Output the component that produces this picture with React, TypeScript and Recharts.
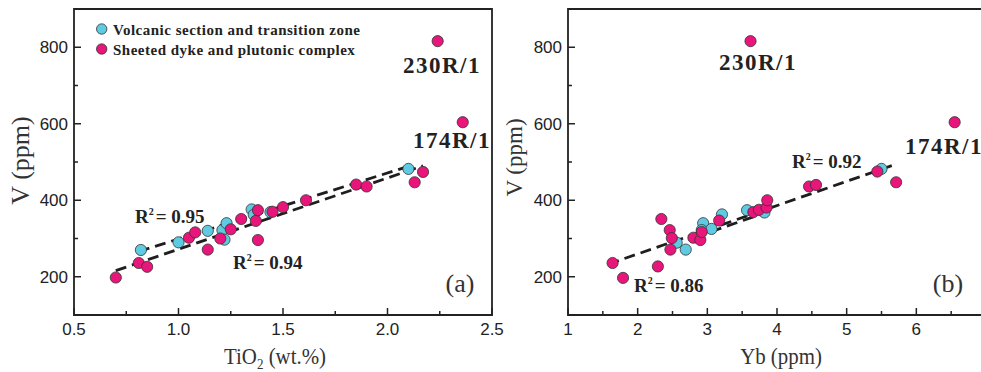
import React from "react";
import { ScatterChart, Scatter, XAxis, YAxis, ReferenceArea, ReferenceLine } from "recharts";

// panel (a): TiO2 (wt.%) vs V (ppm)
const tio2Volcanic = [
  { x: 0.82, y: 270 }, { x: 1.0, y: 290 }, { x: 1.14, y: 320 }, { x: 1.21, y: 322 },
  { x: 1.22, y: 297 }, { x: 1.23, y: 340 }, { x: 1.35, y: 376 }, { x: 1.36, y: 362 },
  { x: 1.44, y: 369 }, { x: 2.1, y: 482 },
];
const tio2Sheeted = [
  { x: 0.7, y: 198 }, { x: 0.81, y: 236 }, { x: 0.85, y: 226 }, { x: 1.05, y: 302 },
  { x: 1.08, y: 316 }, { x: 1.14, y: 271 }, { x: 1.2, y: 300 }, { x: 1.25, y: 324 },
  { x: 1.3, y: 351 }, { x: 1.37, y: 346 }, { x: 1.38, y: 374 }, { x: 1.38, y: 296 },
  { x: 1.45, y: 370 }, { x: 1.5, y: 382 }, { x: 1.61, y: 400 }, { x: 1.85, y: 441 },
  { x: 1.9, y: 436 }, { x: 2.13, y: 447 }, { x: 2.17, y: 474 }, { x: 2.24, y: 816 },
  { x: 2.36, y: 604 },
];
const tio2FitVolcanic = [{ x: 0.81, y: 266 }, { x: 2.12, y: 492 }];
const tio2FitSheeted = [{ x: 0.7, y: 216 }, { x: 2.17, y: 490 }];

// panel (b): Yb (ppm) vs V (ppm)
const ybVolcanic = [
  { x: 2.56, y: 289 }, { x: 2.69, y: 271 }, { x: 2.94, y: 340 }, { x: 2.92, y: 322 },
  { x: 3.06, y: 325 }, { x: 3.21, y: 363 }, { x: 3.57, y: 374 }, { x: 3.82, y: 368 },
  { x: 5.5, y: 482 },
];
const ybSheeted = [
  { x: 1.64, y: 236 }, { x: 1.79, y: 197 }, { x: 2.29, y: 227 }, { x: 2.34, y: 351 },
  { x: 2.46, y: 322 }, { x: 2.49, y: 301 }, { x: 2.47, y: 271 }, { x: 2.8, y: 302 },
  { x: 2.9, y: 296 }, { x: 2.92, y: 317 }, { x: 3.17, y: 347 }, { x: 3.66, y: 369 },
  { x: 3.74, y: 375 }, { x: 3.85, y: 381 }, { x: 3.86, y: 400 }, { x: 4.46, y: 436 },
  { x: 4.56, y: 440 }, { x: 5.44, y: 475 }, { x: 5.71, y: 447 }, { x: 3.62, y: 816 },
  { x: 6.55, y: 604 },
];
const ybFitSheeted = [{ x: 1.58, y: 233 }, { x: 5.72, y: 495 }];
const ybFitVolcanic = [{ x: 2.82, y: 303 }, { x: 3.95, y: 375 }];

const tio2Ticks = [0.5, 0.75, 1, 1.25, 1.5, 1.75, 2, 2.25, 2.5];
// the 7 tick falls just past the picture's right edge
const ybTicks = [1, 1.5, 2, 2.5, 3, 3.5, 4, 4.5, 5, 5.5, 6, 6.5];
const vTicks = [200, 300, 400, 500, 600, 700, 800];

const seriesNames = ["Volcanic section and transition zone", "Sheeted dyke and plutonic complex"];

const CYAN = "#5ecbe2";
const PINK = "#e8157b";
const INK = "#222";
const SANS = "'Liberation Sans', Arial, sans-serif";
const SERIF = "'Liberation Serif', 'Times New Roman', serif";

const dot = (fill: string) => (p: any) => (
  <circle cx={p.cx} cy={p.cy} r={5.6} fill={fill} stroke="#333" strokeWidth={0.8} />
);

const xTick = (isMajor: (v: number) => boolean, fmt: (v: number) => string) => (p: any) => {
  const v = p.payload.value;
  const major = isMajor(v);
  return (
    <g>
      <line x1={p.x} x2={p.x} y1={p.y} y2={p.y - (major ? 7 : 4)} stroke={INK} strokeWidth={1.5} />
      {major && (
        <text x={p.x} y={p.y + 20} textAnchor="middle" fontSize={17} fontFamily={SANS} fill={INK}>
          {fmt(v)}
        </text>
      )}
    </g>
  );
};

const yTick = (p: any) => {
  const v = p.payload.value;
  const major = v % 200 === 0;
  return (
    <g>
      <line x1={p.x} x2={p.x + (major ? 7 : 4)} y1={p.y} y2={p.y} stroke={INK} strokeWidth={1.5} />
      {major && (
        <text x={p.x - 6} y={p.y + 6} textAnchor="end" fontSize={17} fontFamily={SANS} fill={INK}>
          {v}
        </text>
      )}
    </g>
  );
};

const dash = { stroke: "#1e1e1e", strokeWidth: 2.8, strokeDasharray: "11 6" };

function Panel(props: {
  volcanic: { x: number; y: number }[];
  sheeted: { x: number; y: number }[];
  fits: { x: number; y: number }[][];
  domain: [number, number];
  ticks: number[];
  tick: (p: any) => React.ReactElement;
}) {
  const { volcanic, sheeted, fits, domain, ticks, tick } = props;
  return (
    <ScatterChart width={520} height={372} margin={{ top: 9, right: 28, bottom: 0, left: 0 }}>
      <XAxis
        type="number"
        dataKey="x"
        domain={domain}
        ticks={ticks}
        interval={0}
        tickSize={0}
        tickMargin={0}
        axisLine={false}
        height={57}
        tick={tick}
      />
      <YAxis
        type="number"
        dataKey="y"
        domain={[100, 900]}
        ticks={vTicks}
        interval={0}
        tickSize={0}
        tickMargin={0}
        axisLine={false}
        width={74}
        tick={yTick}
      />
      <ReferenceArea x1={domain[0]} x2={domain[1]} y1={100} y2={900} fill="none" stroke={INK} strokeWidth={1.8} />
      <Scatter name={seriesNames[0]} data={volcanic} fill={CYAN} shape={dot(CYAN)} isAnimationActive={false} />
      <Scatter name={seriesNames[1]} data={sheeted} fill={PINK} shape={dot(PINK)} isAnimationActive={false} />
      {fits.map((seg, i) => (
        <ReferenceLine key={i} segment={seg} {...dash} />
      ))}
    </ScatterChart>
  );
}

const boldLabel = { fontFamily: SERIF, fontWeight: 700, fill: INK } as const;

function R2({ x, y, value }: { x: number; y: number; value: string }) {
  return (
    <text x={x} y={y} fontSize={19} {...boldLabel}>
      R<tspan fontSize={10} dy={-8}>2</tspan>
      <tspan dy={8} dx={2}>= {value}</tspan>
    </text>
  );
}

export default function App() {
  return (
    <div style={{ position: "absolute", left: 0, top: 0, width: 981, height: 372, overflow: "hidden", background: "#fff" }}>
      <div style={{ position: "absolute", left: 494, top: 0 }}>
        <Panel
          volcanic={ybVolcanic}
          sheeted={ybSheeted}
          fits={[ybFitSheeted, ybFitVolcanic]}
          domain={[1, 7]}
          ticks={ybTicks}
          tick={xTick((v) => Number.isInteger(v), (v) => String(v))}
        />
      </div>
      <div style={{ position: "absolute", left: 0, top: 0 }}>
        <Panel
          volcanic={tio2Volcanic}
          sheeted={tio2Sheeted}
          fits={[tio2FitVolcanic, tio2FitSheeted]}
          domain={[0.5, 2.5]}
          ticks={tio2Ticks}
          tick={xTick((v) => Math.abs(v * 2 - Math.round(v * 2)) < 1e-6, (v) => v.toFixed(1))}
        />
      </div>
      <svg width={981} height={372} style={{ position: "absolute", left: 0, top: 0, pointerEvents: "none" }}>
        {seriesNames.map((name, i) => (
          <g key={name}>
            <circle cx={101.7} cy={29 + i * 20} r={5.2} fill={i === 0 ? CYAN : PINK} stroke="#333" strokeWidth={0.8} />
            <text x={113} y={34.5 + i * 20} fontSize={15} letterSpacing={0.5} {...boldLabel}>
              {name}
            </text>
          </g>
        ))}

        <text x={403} y={73} fontSize={23} letterSpacing={1.5} {...boldLabel}>230R/1</text>
        <text x={413} y={148} fontSize={23} letterSpacing={1.5} {...boldLabel}>174R/1</text>
        <text x={719} y={70} fontSize={23} letterSpacing={1.5} {...boldLabel}>230R/1</text>
        <text x={905} y={154} fontSize={23} letterSpacing={1.5} {...boldLabel}>174R/1</text>

        <R2 x={135} y={223} value="0.95" />
        <R2 x={233} y={269} value="0.94" />
        <R2 x={634} y={292} value="0.86" />
        <R2 x={792} y={168} value="0.92" />

        <text x={460} y={292} fontSize={26} textAnchor="middle" fontFamily={SERIF} fill="#333">(a)</text>
        <text x={948} y={292} fontSize={26} textAnchor="middle" fontFamily={SERIF} fill="#333">(b)</text>

        <text transform="translate(28.5,160.5) rotate(-90)" fontSize={26} textAnchor="middle" fontFamily={SERIF} fill="#333">
          V (ppm)
        </text>
        <text transform="translate(522,157.5) rotate(-90)" fontSize={23} textAnchor="middle" fontFamily={SERIF} fill="#333">
          V (ppm)
        </text>
        <text transform="translate(275,364) scale(0.87,1)" fontSize={24} textAnchor="middle" fontFamily={SERIF} fill="#333">
          TiO<tspan fontSize={15} dy={5}>2</tspan>
          <tspan dy={-5}> (wt.%)</tspan>
        </text>
        <text transform="translate(781,364) scale(0.87,1)" fontSize={24} textAnchor="middle" fontFamily={SERIF} fill="#333">
          Yb (ppm)
        </text>
      </svg>
    </div>
  );
}
